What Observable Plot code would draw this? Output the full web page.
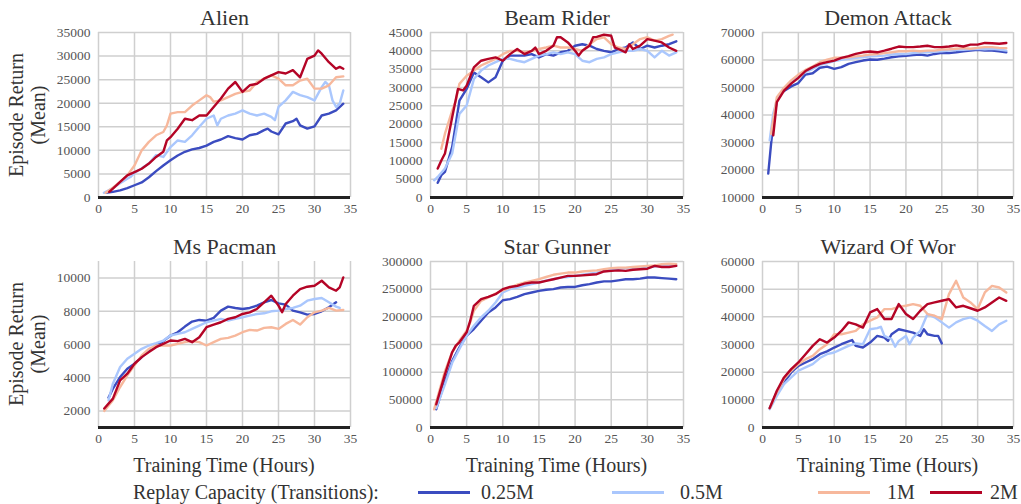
<!DOCTYPE html>
<html><head><meta charset="utf-8">
<script src="https://cdn.jsdelivr.net/npm/d3@7"></script>
<script src="https://cdn.jsdelivr.net/npm/@observablehq/plot@0.6"></script>
<style>
body{margin:0;background:#fff;}
#wrap{position:relative;width:1021px;height:504px;overflow:hidden;font-family:"Liberation Serif",serif;color:#333;}
#wrap svg{position:absolute;overflow:visible;max-width:none;}
.lab{position:absolute;white-space:nowrap;font-size:20px;color:#333;line-height:22px;}
</style></head><body><div id="wrap"></div>
<script>
// ---------- data: [hours, episode return] ----------
const seriesNames = ["0.25M", "0.5M", "1M", "2M"];
const seriesColors = ["#3b4cc0", "#aac7fd", "#f7b89c", "#b40426"];
const gameTitles = ["Alien", "Beam Rider", "Demon Attack", "Ms Pacman", "Star Gunner", "Wizard Of Wor"];
const xTicks = [0, 5, 10, 15, 20, 25, 30, 35];

const alien_025 = [[1,1000],[2,1200],[3,1500],[4,2000],[5,2600],[6,3200],[7,4300],[8,5600],[9,6800],[10,7900],[11,8900],[12,9700],[13,10200],[14,10500],[15,11000],[16,11800],[17,12300],[18,13000],[19,12600],[20,12300],[21,13200],[22,13500],[23,14300],[23.5,14600],[24,14000],[25,13400],[26,15700],[27,16200],[27.5,16700],[28,15300],[29,14600],[30,15100],[31,17400],[32,17800],[33,18500],[34,19900]];
const alien_05 = [[0.75,1000],[2,2000],[3,3000],[4,4000],[4.5,4400],[5,5200],[6,6200],[7,7200],[8,9000],[9,8600],[10,10700],[11,12100],[12,11800],[13,13200],[14,15000],[15,16700],[16,17400],[16.5,15300],[17,16700],[18,17400],[19,17800],[20,18500],[21,17800],[22,17400],[23,17800],[24,17100],[24.5,16400],[25,19200],[26,20600],[27,22400],[28,21700],[29,21300],[30,20600],[31,23400],[31.5,24500],[32,23800],[32.5,20600],[33,19200],[33.5,19900],[34,22700]];
const alien_1 = [[1,1000],[2,2100],[3,3300],[4,4700],[5,6800],[6,10000],[7,11800],[8,13200],[9,13900],[9.5,15300],[10,17800],[11,18100],[12,18100],[13,19500],[14,20600],[15,21700],[15.5,21300],[16,20300],[17,20600],[18,21300],[19,22000],[20,22400],[21,22700],[22,24500],[23,25200],[24,25900],[25,25200],[26,23800],[27,23800],[28,24800],[29,25200],[30,23100],[31,23100],[32,23800],[33,25500],[34,25700]];
const alien_2 = [[1.5,1200],[2,1900],[3,3300],[4,4700],[5,5400],[6,6100],[7,7200],[8,8600],[9,9700],[9.5,12100],[10,12800],[11,14600],[12,16700],[13,16400],[14,17400],[15,17400],[16,19200],[17,21000],[18,23100],[19,24500],[20,22400],[21,23800],[22,24100],[23,25200],[24,25900],[25,26600],[26,26300],[27,27000],[28,25500],[29,29400],[30,30100],[30.5,31200],[31,30500],[32,28700],[33,27300],[33.5,27700],[34,27300]];

const beam_025 = [[1,4000],[1.5,6100],[2,7000],[3,13800],[4,26400],[5,29600],[6,34100],[7,32800],[8,31400],[9,32800],[10,37300],[11,38700],[12,38700],[13,38700],[14,39100],[15,38200],[16,39100],[17,38700],[18,39600],[19,40000],[20,41400],[21,41800],[22,41400],[23,40500],[24,40000],[25,39600],[26,40500],[27,40900],[28,42300],[29,40500],[30,41400],[31,40900],[32,41400],[33,41800],[34,42600]];
const beam_05 = [[0.5,4700],[1,5600],[2,7900],[3,12000],[4,22800],[5,25100],[6,32300],[7,34600],[8,36000],[9,36900],[10,37800],[11,37800],[12,37300],[13,36900],[14,37800],[15,38700],[16,39100],[17,39600],[18,39100],[19,39600],[20,39100],[21,37300],[22,36900],[23,37800],[24,38200],[25,39100],[26,39600],[27,40000],[28,40000],[29,40500],[30,40000],[31,38200],[32,40000],[33,38700],[34,39600]];
const beam_1 = [[1.5,13300],[2,17400],[3,23700],[3.5,26400],[4,31000],[5,33200],[6,34600],[7,36000],[8,36900],[9,37800],[10,39100],[11,40000],[12,40000],[13,39600],[14,40000],[15,40500],[16,40900],[17,41400],[18,40900],[19,40900],[20,40500],[21,40000],[22,41800],[23,43200],[24,43700],[25,41800],[26,40900],[27,40500],[28,41800],[29,43200],[30,43700],[31,42800],[32,43200],[33,44100],[33.5,44400]];
const beam_2 = [[1,7900],[1.5,10100],[2,12000],[3,21900],[3.8,29600],[4.5,29200],[5,30500],[6,35500],[7,37300],[8,37800],[9,38200],[10,37300],[11,39100],[12,40500],[13,39100],[14,40000],[14.5,40900],[15,39100],[16,40000],[17,41400],[17.5,43700],[18,43700],[19,42300],[20,40000],[20.5,38700],[21,40000],[22,41400],[22.5,43700],[23,43800],[24,44400],[25,44100],[25.5,40900],[26,40500],[27,39600],[27.5,41800],[28,40500],[29,41400],[30,43200],[31,42800],[32,42300],[33,40900],[34,40000]];

const demon_025 = [[0.8,18700],[1.2,29600],[1.5,36800],[2,45300],[2.5,47700],[3,48700],[4,50400],[5,51600],[6,54700],[7,55200],[8,57200],[9,57600],[10,56800],[11,57400],[12,58600],[13,59200],[14,59800],[15,60200],[16,60100],[17,60500],[18,61000],[19,61300],[20,61500],[21,61800],[22,62000],[23,61600],[24,62200],[25,62600],[26,62500],[27,62800],[28,63200],[29,63400],[30,63700],[31,63400],[32,63400],[33,63200],[34,62800]];
const demon_05 = [[1,30800],[1.5,40500],[2,45300],[3,49500],[4,52000],[5,53800],[6,55600],[7,56800],[8,58200],[9,58900],[10,59600],[11,60100],[12,60400],[13,60800],[14,61000],[15,61300],[16,61400],[17,61600],[18,62000],[19,62200],[20,62200],[21,62500],[22,62700],[23,62800],[24,63100],[25,63200],[26,63400],[27,63600],[28,63700],[29,63900],[30,64100],[31,63900],[32,64100],[33,63800],[34,63400]];
const demon_1 = [[1.2,33200],[2,46500],[3,49900],[4,52600],[5,54700],[6,56400],[7,57600],[8,59200],[9,60100],[10,60800],[11,60800],[12,61000],[13,61300],[14,61600],[15,62000],[16,62200],[17,62500],[18,62800],[19,63200],[20,63200],[21,63400],[22,63200],[23,63400],[24,63400],[25,63800],[26,63900],[27,64100],[28,64300],[29,64100],[30,64400],[31,64700],[32,64700],[33,64400],[34,64300]];
const demon_2 = [[1.5,32600],[2,44700],[3,48900],[4,51400],[5,53500],[6,56000],[7,57400],[8,58600],[9,59200],[10,59800],[11,60800],[12,61400],[13,62200],[14,62800],[15,63100],[16,62800],[17,63400],[18,64100],[19,64900],[20,64700],[21,64700],[22,64900],[23,65200],[24,64700],[25,64700],[26,64900],[27,65300],[28,64900],[29,65600],[30,65600],[31,66200],[32,66100],[33,65900],[34,66200]];

const pacman_025 = [[1.4,2800],[2,3340],[3,4040],[4,4540],[5,4840],[6,5240],[7,5640],[8,5940],[9,6200],[10,6540],[11,6740],[12,7080],[13,7380],[14,7480],[15,7440],[16,7600],[17,8040],[18,8280],[19,8200],[20,8140],[21,8200],[22,8340],[23,8540],[24,8680],[25,8480],[26,8400],[27,8040],[28,7940],[29,7800],[30,7840],[31,8000],[32,8240],[33,8540]];
const pacman_05 = [[1.4,2640],[2,3640],[3,4640],[4,5140],[5,5440],[6,5740],[7,5940],[8,6080],[9,6240],[10,6540],[11,6640],[12,6740],[13,6940],[14,7140],[15,7340],[16,7440],[17,7540],[18,7440],[19,7540],[20,7640],[21,7740],[22,7840],[23,7880],[24,8000],[25,8040],[26,8140],[27,8200],[28,8340],[29,8640],[30,8740],[31,8800],[32,8540],[33,8280],[33.5,8200]];
const pacman_1 = [[0.8,2000],[2,2640],[3,3440],[4,4140],[5,4740],[6,5340],[7,5740],[8,5940],[9,5940],[10,5940],[11,6040],[12,6140],[13,6200],[14,6140],[15,5940],[16,6140],[17,6340],[18,6400],[19,6540],[20,6740],[21,6880],[22,6840],[23,7000],[24,7040],[25,6940],[26,7240],[27,7480],[28,7200],[29,7640],[30,7940],[31,8040],[32,8200],[33,8040],[34,8080]];
const pacman_2 = [[0.8,2140],[2,2740],[3,3840],[4,4240],[5,4840],[6,5240],[7,5540],[8,5840],[9,6040],[10,6240],[11,6200],[12,6340],[13,6140],[14,6440],[15,7040],[16,7200],[17,7340],[18,7540],[19,7640],[20,7840],[21,7940],[22,8140],[23,8540],[24,8940],[25,8340],[25.5,7940],[26,8440],[27,8940],[28,9340],[29,9480],[30,9540],[31,9840],[32,9440],[33,9240],[33.5,9440],[34,10040]];

const star_025 = [[0.8,33000],[2,84000],[3,120000],[4,145000],[5,166000],[6,178000],[7,193000],[8,208000],[9,217000],[10,230000],[11,232000],[12,236000],[13,241000],[14,244000],[15,247000],[16,249000],[17,250000],[18,253000],[19,254000],[20,254000],[21,257000],[22,259000],[23,262000],[24,264000],[25,264000],[26,266000],[27,268000],[28,268000],[29,269000],[30,271000],[31,271000],[32,270000],[33,269000],[34,268000]];
const star_05 = [[0.8,35000],[2,78000],[3,117000],[4,142000],[5,166000],[6,184000],[7,199000],[8,211000],[9,226000],[10,244000],[11,250000],[12,253000],[13,256000],[14,259000],[15,262000],[16,266000],[17,268000],[18,271000],[19,272000],[20,274000],[21,276000],[22,278000],[23,280000],[24,283000],[25,286000],[26,287000],[27,288000],[28,289000],[29,289000],[30,289000],[31,291000],[32,292000],[33,292000],[34,293000]];
const star_1 = [[0.5,33000],[2,102000],[3,136000],[4,157000],[5,175000],[5.5,190000],[6,211000],[7,229000],[8,235000],[9,242000],[10,248000],[11,253000],[12,258000],[13,262000],[14,265000],[15,268000],[16,272000],[17,276000],[18,278000],[19,280000],[20,280000],[21,282000],[22,283000],[23,284000],[24,286000],[25,288000],[26,289000],[27,289000],[28,290000],[29,291000],[30,292000],[31,293000],[32,295000],[33,296000],[34,295000]];
const star_2 = [[0.8,42000],[2,96000],[3,136000],[3.5,148000],[4,154000],[5,172000],[5.5,193000],[6,220000],[7,232000],[8,236000],[9,241000],[10,250000],[11,254000],[12,256000],[13,260000],[14,262000],[15,262000],[16,265000],[17,268000],[18,271000],[19,274000],[20,274000],[21,275000],[22,276000],[23,277000],[24,282000],[25,283000],[26,284000],[27,283000],[28,285000],[29,286000],[30,287000],[31,292000],[32,290000],[33,290000],[34,292000]];

const wizard_025 = [[1,7000],[2,12700],[3,16300],[4,19900],[5,22300],[6,23500],[7,24700],[8,26500],[9,27500],[10,28900],[11,30100],[12,31100],[12.5,31600],[13,29500],[14,28900],[15,30700],[16,33100],[17,32500],[17.5,31300],[18,33700],[19,35500],[20,34900],[21,34300],[22,33100],[22.5,35500],[23,33700],[24,33100],[24.5,33100],[25,30400]];
const wizard_05 = [[1,6600],[2,11400],[3,15700],[4,18100],[5,20500],[6,21700],[7,22900],[8,25100],[9,26500],[10,27100],[11,28300],[12,29500],[13,30400],[14,30100],[15,35500],[16,35900],[16.5,36400],[17,33100],[18,31900],[18.5,29200],[19,31300],[20,33100],[20.5,30100],[21,32500],[22,34900],[23,41000],[24,39800],[25,38000],[26,36100],[27,38000],[28,39200],[29,39800],[30,38600],[31,36700],[32,34900],[33,37300],[34,38600]];
const wizard_1 = [[1,7000],[2,12700],[3,17500],[4,20500],[5,22900],[6,24700],[7,25900],[8,28300],[9,30100],[10,33700],[11,33700],[12,34300],[13,34900],[14,37300],[15,38600],[16,39800],[17,42800],[18,42800],[19,43600],[20,44000],[21,44600],[22,44000],[23,41000],[24,40400],[25,39200],[26,48200],[27,53000],[28,47000],[29,45200],[30,42800],[31,48800],[32,51200],[33,50600],[34,48800]];
const wizard_2 = [[1,7000],[2,13300],[3,18100],[4,21100],[5,23500],[6,26500],[7,29500],[8,31900],[9,30700],[10,32500],[11,34900],[12,38000],[13,37300],[14,36100],[15,41600],[16,42800],[17,39200],[18,39200],[19,44600],[20,41000],[21,39200],[22,42200],[23,44600],[24,45200],[25,45800],[26,46400],[27,43400],[28,44000],[29,43100],[30,42200],[31,43400],[32,45200],[33,47000],[34,45800]];

const alienTicks = [0,5000,10000,15000,20000,25000,30000,35000];
const beamTicks = [0,5000,10000,15000,20000,25000,30000,35000,40000,45000];
const demonTicks = [10000,20000,30000,40000,50000,60000,70000];
const pacmanTicks = [2000,4000,6000,8000,10000];
const starTicks = [0,50000,100000,150000,200000,250000,300000];
const wizardTicks = [0,10000,20000,30000,40000,50000,60000];

const alienDomain = [0,35000], beamDomain = [0,45000], demonDomain = [10000,70000];
const pacmanDomain = [1000,11000], starDomain = [0,300000], wizardDomain = [0,60000];

// ---------- layout ----------
const panels = [
  {series:[alien_025,alien_05,alien_1,alien_2], domain:alienDomain, ticks:alienTicks},
  {series:[beam_025,beam_05,beam_1,beam_2], domain:beamDomain, ticks:beamTicks},
  {series:[demon_025,demon_05,demon_1,demon_2], domain:demonDomain, ticks:demonTicks},
  {series:[pacman_025,pacman_05,pacman_1,pacman_2], domain:pacmanDomain, ticks:pacmanTicks},
  {series:[star_025,star_05,star_1,star_2], domain:starDomain, ticks:starTicks},
  {series:[wizard_025,wizard_05,wizard_1,wizard_2], domain:wizardDomain, ticks:wizardTicks}
];
const colL = [98, 430, 762], colR = [350, 683, 1013];
const rowT = [32, 261], rowB = [197, 427];
const ml = 80, mr = 14, mt = 40, mb = 30;
const wrap = document.getElementById("wrap");
const FONT = "Liberation Serif";

panels.forEach((p, i) => {
  const c = i % 3, r = Math.floor(i / 3);
  const fw = colR[c] - colL[c], fh = rowB[r] - rowT[r];
  const rows = [];
  p.series.forEach((s, k) => s.forEach(([t, v]) => rows.push({t, v, s: seriesNames[k]})));
  const chart = Plot.plot({
    width: ml + fw + mr, height: mt + fh + mb,
    marginLeft: ml, marginRight: mr, marginTop: mt, marginBottom: mb,
    style: {fontFamily: FONT, background: "transparent", overflow: "visible"},
    x: {domain: [0, 35], axis: null},
    y: {domain: p.domain, axis: null},
    color: {domain: seriesNames, range: seriesColors},
    marks: [
      Plot.ruleX(xTicks, {x: d => d, stroke: "#cfcfcf", strokeWidth: 1.5}),
      Plot.ruleY(p.ticks, {y: d => d, stroke: "#cfcfcf", strokeWidth: 1.5}),
      Plot.ruleY([p.domain[0]], {y: d => d, stroke: "#222", strokeWidth: 3}),
      ...seriesNames.map(n => Plot.line(rows.filter(d => d.s === n), {x: "t", y: "v", stroke: "s", strokeWidth: 2.4, curve: "linear"})),
      Plot.text(xTicks, {x: d => d, frameAnchor: "bottom", dy: 15, text: d => String(d), fontSize: 13.5, fill: "#555"}),
      Plot.text(p.ticks, {y: d => d, frameAnchor: "left", dx: -8, textAnchor: "end", text: d => String(d), fontSize: 13.5, fill: "#555"}),
      Plot.text([gameTitles[i]], {frameAnchor: "top", lineAnchor: "bottom", dy: -8, text: d => d, fontSize: 22, fill: "#333"})
    ]
  });
  chart.style.left = (colL[c] - ml) + "px";
  chart.style.top = (rowT[r] - mt) + "px";
  wrap.appendChild(chart);
});

function addLabel(text, x, y, extra) {
  const d = document.createElement("div");
  d.className = "lab";
  d.innerHTML = text;
  d.style.left = x + "px"; d.style.top = y + "px";
  d.style.transform = "translate(-50%,-50%)" + (extra || "");
  if (extra) d.style.textAlign = "center";
  wrap.appendChild(d);
  return d;
}
// y labels
[115, 344].forEach(cy => addLabel("Episode Return<br>(Mean)", 27, cy, " rotate(-90deg)"));
// x labels
[0,1,2].forEach(c => addLabel("Training Time (Hours)", (colL[c] + colR[c]) / 2, 465));
// legend
const leg = document.createElement("div");
leg.style.cssText = "position:absolute;left:0;top:481px;width:1021px;height:24px;font-size:20px;color:#333;";
wrap.appendChild(leg);
const legText = document.createElement("div");
legText.style.cssText = "position:absolute;left:133px;top:0;white-space:nowrap;";
legText.textContent = "Replay Capacity (Transitions):";
leg.appendChild(legText);
const legLines = [418, 612, 818, 930], legLabels = [481, 680, 887, 990];
seriesNames.forEach((n, k) => {
  const ln = document.createElement("div");
  ln.style.cssText = `position:absolute;left:${legLines[k]}px;top:10px;width:52px;height:3px;background:${seriesColors[k]};`;
  leg.appendChild(ln);
  const tx = document.createElement("div");
  tx.style.cssText = `position:absolute;left:${legLabels[k]}px;top:0;white-space:nowrap;`;
  tx.textContent = n;
  leg.appendChild(tx);
});
</script></body></html>
